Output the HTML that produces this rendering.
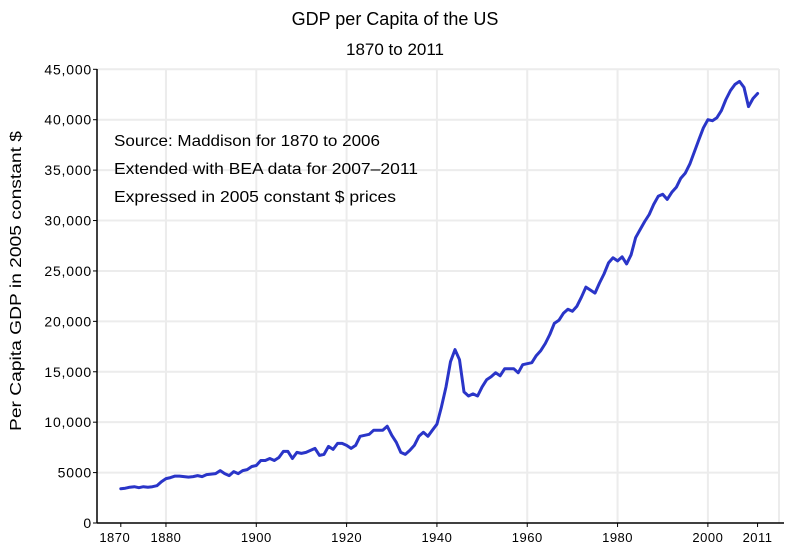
<!DOCTYPE html>
<html><head><meta charset="utf-8">
<style>
html,body{margin:0;padding:0;background:#fff;}
svg{display:block;font-family:"Liberation Sans",sans-serif;}
</style></head>
<body>
<svg id="chart" width="800" height="550" viewBox="0 0 800 550">
  <text x="395" y="25" font-size="18" text-anchor="middle" fill="#000">GDP per Capita of the US</text>
  <text x="395" y="55" font-size="17" text-anchor="middle" fill="#000">1870 to 2011</text>
  <g id="grid"></g>
  <g id="axes"></g>
  <text transform="translate(21,281) rotate(-90)" font-size="16" text-anchor="middle" textLength="300" lengthAdjust="spacingAndGlyphs" fill="#000">Per Capita GDP in 2005 constant $</text>
  <g font-size="16" fill="#000">
    <text x="114" y="146" textLength="266" lengthAdjust="spacingAndGlyphs">Source:  Maddison for 1870 to 2006</text>
    <text x="114" y="174" textLength="304" lengthAdjust="spacingAndGlyphs">Extended with BEA data for 2007–2011</text>
    <text x="114" y="202" textLength="282" lengthAdjust="spacingAndGlyphs">Expressed in 2005 constant $ prices</text>
  </g>
  <g id="series"></g>
</svg>
<script>
const startYear = 1870;
const gdpValues = [3400,3450,3550,3600,3500,3600,3550,3600,3700,4100,
4400,4500,4650,4650,4600,4550,4600,4700,4600,4800,
4850,4900,5200,4900,4700,5100,4900,5200,5300,5600,
5700,6200,6200,6400,6200,6500,7100,7100,6400,7000,
6900,7000,7200,7400,6700,6800,7600,7300,7900,7900,
7700,7400,7700,8600,8700,8800,9200,9200,9200,9600,
8700,8000,7000,6800,7200,7700,8600,9000,8600,9200,
9800,11500,13500,16000,17200,16200,13000,12600,12800,12600,
13500,14200,14500,14900,14600,15300,15300,15300,14900,15700,
15800,15900,16600,17100,17800,18700,19800,20100,20800,21200,
21000,21500,22400,23400,23100,22800,23800,24700,25800,26300,
26000,26400,25700,26600,28300,29100,29900,30600,31600,32400,
32600,32100,32800,33300,34200,34700,35600,36800,38000,39200,
40000,39900,40200,40900,42000,42900,43500,43800,43200,41300,
42100,42600];
const xTickYears = [1870,1880,1900,1920,1940,1960,1980,2000,2011];
const xGridYears = [1880,1900,1920,1940,1960,1980,2000];
const yTicks = [0,5000,10000,15000,20000,25000,30000,35000,40000,45000];
const yTickLabels = ["0","5000","10,000","15,000","20,000","25,000","30,000","35,000","40,000","45,000"];

const NS="http://www.w3.org/2000/svg";
const x0=120.8, pxPerYear=4.516, yBase=523, pxPerUnit=(523-69.3)/45000;
const left=97, right=779;
function xs(yr){return x0+(yr-1870)*pxPerYear;}
function ys(v){return yBase-v*pxPerUnit;}
function mk(tag,attrs,parent){const e=document.createElementNS(NS,tag);for(const k in attrs)e.setAttribute(k,attrs[k]);parent.appendChild(e);return e;}

const grid=document.getElementById('grid');
const axes=document.getElementById('axes');
yTicks.forEach((v,i)=>{
  if(v>0){
    const l=mk('line',{x1:left,x2:right,y1:ys(v),y2:ys(v),stroke:'#ececec','stroke-width':2},grid);
    
    
  }
  const t=mk('line',{x1:left-4,x2:left,y1:ys(v),y2:ys(v),stroke:'#000','stroke-width':1},axes);
  
  
  const tx=mk('text',{x:left-5,y:ys(v)+5,'font-size':14,'letter-spacing':0.8,'text-anchor':'end',fill:'#000'},axes);
  tx.textContent=yTickLabels[i];
  
  
});
xGridYears.forEach(yr=>{
  const l=mk('line',{x1:xs(yr),x2:xs(yr),y1:69,y2:yBase,stroke:'#ececec','stroke-width':2},grid);
  
  
});
const rb=mk('line',{x1:right,x2:right,y1:69,y2:yBase,stroke:'#ececec','stroke-width':2},grid);


const xa=mk('line',{x1:left,x2:right+5,y1:yBase,y2:yBase,stroke:'#000','stroke-width':1.5},axes);


const ya=mk('line',{x1:left,x2:left,y1:69,y2:yBase,stroke:'#000','stroke-width':1.5},axes);


xTickYears.forEach(yr=>{
  const t=mk('line',{x1:xs(yr),x2:xs(yr),y1:yBase,y2:yBase+4,stroke:'#000','stroke-width':1},axes);
  
  
  const lx = yr===1870 ? xs(yr)-6 : xs(yr);
  const tx=mk('text',{x:lx,y:yBase+19,'font-size':13,'letter-spacing':0.5,'text-anchor':'middle',fill:'#000'},axes);
  tx.textContent=String(yr);
  
  
});
const pts=gdpValues.map((v,i)=>xs(startYear+i).toFixed(1)+','+ys(v).toFixed(1)).join(' ');
const line=mk('polyline',{points:pts,fill:'none',stroke:'#2a35c8','stroke-width':3,'stroke-linejoin':'round','stroke-linecap':'round'},document.getElementById('series'));


</script>
</body></html>
